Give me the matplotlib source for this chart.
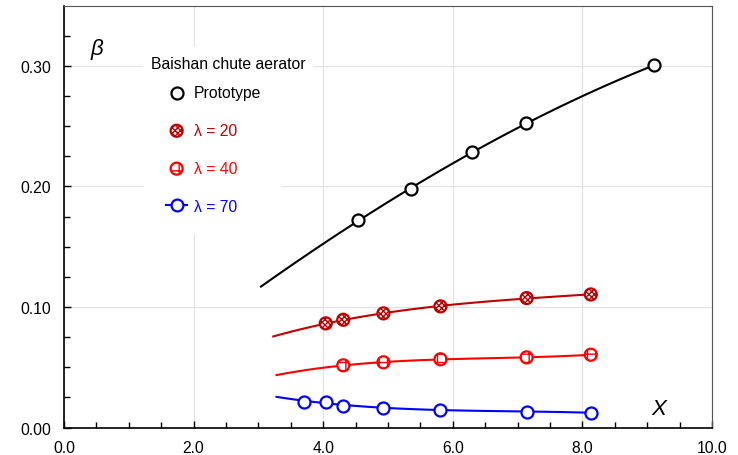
import numpy as np
import matplotlib
matplotlib.use("Agg")
import matplotlib.pyplot as plt
from matplotlib.lines import Line2D
from matplotlib.legend_handler import HandlerLine2D

plt.rcParams['font.family'] = ['Liberation Sans', 'DejaVu Sans']

proto_x = [4.54, 5.36, 6.29, 7.13, 9.11]
proto_y = [0.1723, 0.1978, 0.2282, 0.2523, 0.3006]
l20_x = [4.04, 4.31, 4.93, 5.81, 7.14, 8.13]
l20_y = [0.0864, 0.0894, 0.0947, 0.1005, 0.1074, 0.1104]
l40_x = [4.31, 4.93, 5.81, 7.14, 8.13]
l40_y = [0.0516, 0.0541, 0.0566, 0.0582, 0.0604]
l70_x = [3.71, 4.04, 4.31, 4.93, 5.81, 7.14, 8.13]
l70_y = [0.0214, 0.0214, 0.0181, 0.0162, 0.0148, 0.0131, 0.0123]

# where each trend curve starts (x, y) and ends
fit_start_x = [3.04, 3.23, 3.28, 3.28]
fit_start_y = [0.1168, 0.0754, 0.0435, 0.0256]
fit_end = [9.11, 8.13, 8.13, 8.13]

labels = ["Prototype", "λ = 20", "λ = 40", "λ = 70"]
colors = ["black", "#C00000", "#FF0000", "#0000FF"]
hatches = [None, "xxxxxx", "++", None]


class ShortLine(HandlerLine2D):
    # short line stub around the marker, like the original legend
    def get_xdata(self, legend, xdescent, ydescent, width, height, fontsize):
        c = -xdescent + width / 2
        return np.array([c - 7.5, c + 7.5]), np.array([c])


fig = plt.figure(figsize=(7.38, 4.56), dpi=100)
ax = fig.add_axes([0.0867, 0.0603, 0.878, 0.925])

series = [(proto_x, proto_y), (l20_x, l20_y), (l40_x, l40_y), (l70_x, l70_y)]
handles = []
for i, (xs, ys) in enumerate(series):
    fx = [fit_start_x[i]] + list(xs)
    fy = [fit_start_y[i]] + list(ys)
    c = np.polyfit(fx, fy, 3)
    xx = np.linspace(fit_start_x[i], fit_end[i], 100)
    ax.plot(xx, np.polyval(c, xx), color=colors[i], lw=1.5, zorder=3)
    sc = ax.scatter(xs, ys, s=75, facecolor="white", edgecolor=colors[i],
                    linewidth=1.6, hatch=hatches[i], zorder=4)
    if i == 3:
        handles.append(Line2D([], [], color=colors[i], lw=1.5, marker="o", ms=8.5,
                              mfc="white", mec=colors[i], mew=1.6))
    else:
        handles.append(sc)

ax.set_xlim(0, 10)
ax.set_ylim(0, 0.35)
ax.set_xticks(np.arange(0, 10.1, 2))
ax.set_xticks(np.arange(0, 10.1, 0.5), minor=True)
ax.set_yticks([0, 0.1, 0.2, 0.3])
ax.set_yticks(np.arange(0, 0.35, 0.025), minor=True)
ax.set_xticklabels(["0.0", "2.0", "4.0", "6.0", "8.0", "10.0"])
ax.set_yticklabels(["0.00", "0.10", "0.20", "0.30"])
ax.tick_params(which="both", direction="in", labelsize=11.3, top=False, right=False)
ax.tick_params(which="major", length=5, width=1)
ax.tick_params(which="minor", length=4, width=1)
ax.tick_params(axis="x", pad=9)
ax.tick_params(axis="y", pad=9)
ax.grid(True, which="major", color="#e2e2e2", lw=0.9, zorder=0)
ax.set_axisbelow(True)
for s in ["top", "right"]:
    ax.spines[s].set_color("#555555")
for s in ["left", "bottom"]:
    ax.spines[s].set_linewidth(1.2)

ax.text(0.041, 0.885, "β", transform=ax.transAxes, fontsize=16, style="italic")
ax.text(0.906, 0.032, "X", transform=ax.transAxes, fontsize=16, style="italic")

leg = ax.legend(handles, labels, loc="upper left",
                bbox_to_anchor=(0.123, 0.8605), borderaxespad=0, fontsize=11.3,
                frameon=True, fancybox=False, edgecolor="none", framealpha=1,
                handlelength=1.6, handletextpad=0.3, labelspacing=1.46,
                borderpad=1.3, labelcolor=colors,
                handler_map={handles[3]: ShortLine()})
leg.set_zorder(5)
ax.text(0.253, 0.864, "Baishan chute aerator", transform=ax.transAxes,
        fontsize=11.3, ha="center", va="center", zorder=6,
        bbox=dict(facecolor="white", edgecolor="none", pad=6))

fig.savefig("out.png", dpi=100)
